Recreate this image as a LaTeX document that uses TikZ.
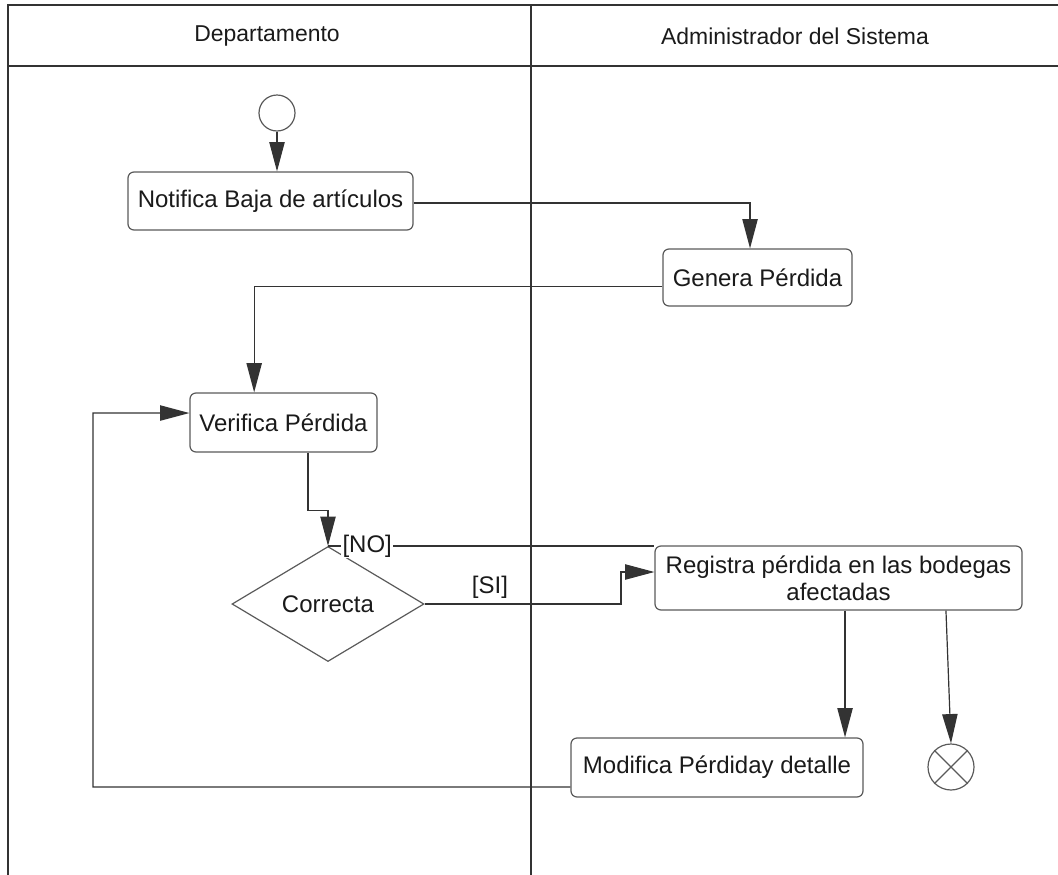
\documentclass[tikz,border=0pt]{standalone}
\usepackage{fontspec}
\setmainfont{Liberation Sans}
\usetikzlibrary{arrows.meta,shapes.geometric}
\definecolor{ink}{HTML}{1A1A1A}
\definecolor{edge}{HTML}{333333}
\definecolor{boxline}{HTML}{5A5A5A}
\begin{document}
\begin{tikzpicture}[x=0.75pt,y=-0.75pt,
  lane/.style={draw=edge,line width=1.1pt},
  action/.style={draw=boxline,line width=0.9pt,rounded corners=4.5pt,fill=white,
    text=ink,font=\fontsize{18}{20.5}\selectfont,align=center,inner sep=0pt},
  flow/.style={draw=edge,line width=0.9pt},
  arrowflow/.style={flow,-{Triangle[length=22pt,width=11.5pt]}},
  guard/.style={text=ink,font=\fontsize{18}{20}\selectfont,inner sep=1pt},
  header/.style={text=ink,font=\fontsize{17.2}{20}\selectfont}]
\useasboundingbox (0,0) rectangle (1058,875);

% swimlane frame
\draw[lane] (1058,5) -- (8,5) -- (8,875);
\draw[lane] (8,66) -- (1058,66);
\draw[lane] (531,5) -- (531,875);
\node[header] (laneA) at (267,36) {Departamento};
\node[header] (laneB) at (795,36) {Administrador del Sistema};

% activity nodes
\node[circle,draw=boxline,line width=0.9pt,minimum size=27pt,inner sep=0pt] (start) at (277,113) {};
\node[action,minimum width=213.75pt,minimum height=43.5pt] (notif) at (270.5,201) {Notifica Baja de artículos};
\node[action,minimum width=141.75pt,minimum height=42.75pt] (genera) at (757.5,277.5) {Genera Pérdida};
\node[action,minimum width=140.25pt,minimum height=44.25pt] (verif) at (283.5,422.5) {Verifica Pérdida};
\node[diamond,draw=boxline,line width=0.9pt,minimum width=144pt,minimum height=86.25pt,
  inner sep=0pt,text=ink,font=\fontsize{18}{20}\selectfont] (dec) at (328,604) {Correcta};
\node[action,minimum width=275.25pt,minimum height=48pt] (registra) at (838.5,578)
  {Registra pérdida en las bodegas\\afectadas};
\node[action,minimum width=219pt,minimum height=44.25pt] (modif) at (717,767.5) {Modifica Pérdiday detalle};
\node[circle,draw=boxline,line width=0.9pt,minimum size=34.5pt,inner sep=0pt] (final) at (951,767) {};
\draw[boxline,line width=0.9pt] (final.45) -- (final.225) (final.135) -- (final.315);

% helper points for routed connectors
\coordinate (sibend) at (621,604);
\coordinate (loopc) at (93,413);

% connectors
\draw[arrowflow] (start.south) -- (start.south |- notif.north);
\draw[arrowflow] ([yshift=-1.5pt]notif.east) -| ([xshift=-5.6pt]genera.north);
\draw[arrowflow] ([yshift=-7pt]genera.west) -| ([xshift=-22pt]verif.north);
\draw[arrowflow] ([xshift=18.4pt]verif.south) -- ++(0,58) -| (dec.north);
\draw[flow] (dec.north) -- (dec.north -| registra.west)
  node[guard,fill=white,pos=0.12] (no) {[NO]};
\draw[arrowflow] (dec.east) -- (sibend) |- ([yshift=4.5pt]registra.west);
\node[guard] (si) at (490,587) {[SI]};
\draw[arrowflow] ([xshift=4.9pt]registra.south) -- ([xshift=4.9pt]registra.south |- modif.north);
\draw[arrowflow] ([xshift=80.6pt]registra.south) -- (final.north);
\draw[arrowflow] ([yshift=-14.6pt]modif.west) -| (loopc) -- ([yshift=7.1pt]verif.west);
\end{tikzpicture}
\end{document}
